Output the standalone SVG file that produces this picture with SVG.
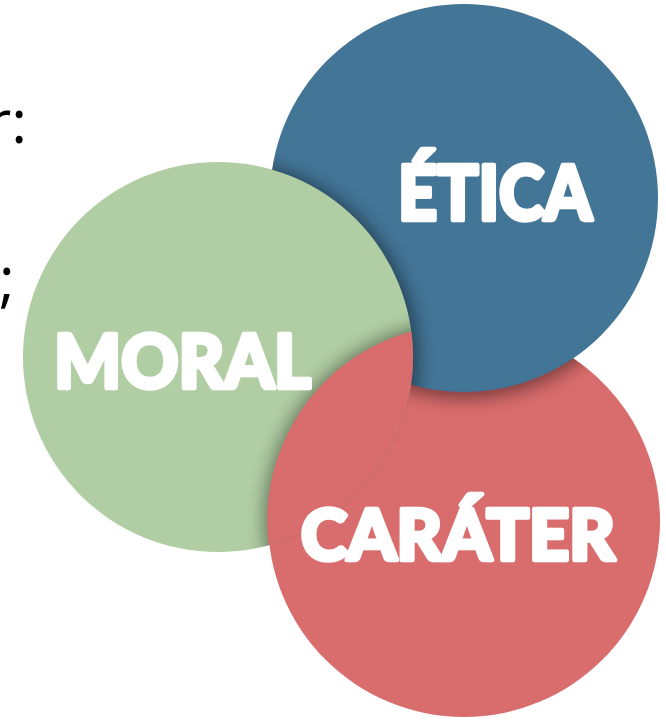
<svg xmlns="http://www.w3.org/2000/svg" width="666" height="721" viewBox="0 0 666 721">
<style>
.lbl{font-family:Lato,"DejaVu Sans",sans-serif;font-weight:900;fill:#fff;stroke:#fff;stroke-width:4.5;stroke-linejoin:round}
.frag{font-family:"Open Sans","DejaVu Sans",sans-serif;fill:#000;font-size:60px}
.sh{fill:#000;opacity:.45;filter:url(#blur)}
.blue{fill:#437597}
.green{fill:#B0CDA3}
.red{fill:#D96C6C}
</style>
<defs>
<filter id="blur" x="-30%" y="-30%" width="160%" height="160%"><feGaussianBlur stdDeviation="9"/></filter>
<clipPath id="cR"><circle cx="464" cy="521" r="196"/></clipPath>
<clipPath id="cB"><circle cx="464" cy="198" r="194"/></clipPath>
<clipPath id="cG"><circle cx="218" cy="357" r="195"/></clipPath>
</defs>
<rect width="666" height="721" fill="#fff"/>
<g id="fragments">
<text class="frag" x="27" y="143" text-anchor="end">r:</text>
<text class="frag" x="-1" y="300">;</text>
</g>
<g id="carater">
<circle class="red" cx="464" cy="521" r="196"/>
<g clip-path="url(#cR)"><circle class="sh" cx="464" cy="201" r="197"/></g>
</g>
<g id="etica">
<circle class="blue" cx="464" cy="198" r="194"/>
<g clip-path="url(#cB)"><circle class="sh" cx="220" cy="359" r="198"/></g>
</g>
<g id="moral">
<circle class="green" cx="218" cy="357" r="195"/>
<g clip-path="url(#cG)"><circle class="sh" cx="464" cy="521" r="199"/></g>
</g>
<g id="carater-over" clip-path="url(#cG)">
<circle class="red" cx="464" cy="521" r="196.8"/>
</g>
<g id="labels">
<text class="lbl" x="398" y="220" font-size="76" textLength="194" lengthAdjust="spacingAndGlyphs">ÉTICA</text>
<text class="lbl" x="54" y="388" font-size="74" textLength="257" lengthAdjust="spacingAndGlyphs">MORAL</text>
<text class="lbl" x="301" y="560" font-size="71" textLength="314" lengthAdjust="spacingAndGlyphs">CARÁTER</text>
</g>
</svg>
